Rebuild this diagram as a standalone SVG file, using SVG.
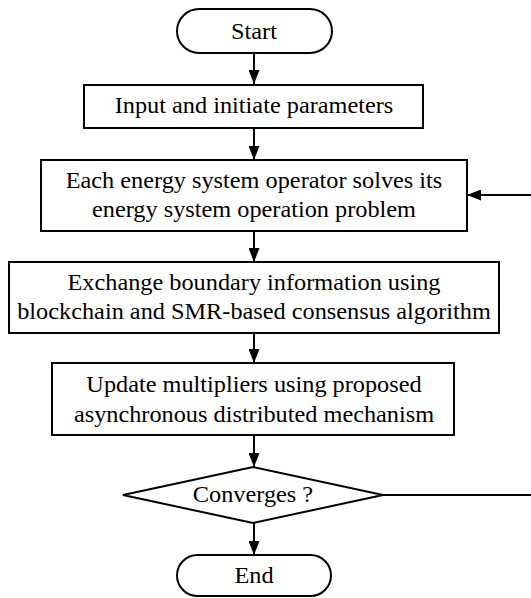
<svg xmlns="http://www.w3.org/2000/svg" width="531" height="598" viewBox="0 0 531 598">
  <defs>
    <marker id="arrow" markerWidth="14" markerHeight="11" refX="14" refY="5.5" orient="auto" markerUnits="userSpaceOnUse">
      <path d="M0,0 L14,5.5 L0,11 Z" fill="#000"/>
    </marker>
    <style>
      .shape { fill: #fff; stroke: #000; stroke-width: 2; }
      .label { font-family: "Liberation Serif", "Times New Roman", serif; font-size: 22.5px; fill: #000; text-anchor: middle; }
      .link { fill: none; stroke: #000; stroke-width: 2; }
    </style>
  </defs>
  <rect width="531" height="598" fill="#fff"/>

  <g id="connectors">
    <line class="link" x1="254" y1="53" x2="254" y2="84" marker-end="url(#arrow)"/>
    <line class="link" x1="254" y1="128" x2="254" y2="160" marker-end="url(#arrow)"/>
    <line class="link" x1="254" y1="231" x2="254" y2="262" marker-end="url(#arrow)"/>
    <line class="link" x1="254" y1="333" x2="254" y2="363" marker-end="url(#arrow)"/>
    <line class="link" x1="254" y1="435" x2="254" y2="467" marker-end="url(#arrow)"/>
    <line class="link" x1="254" y1="523" x2="254" y2="555" marker-end="url(#arrow)"/>
    <!-- loop back when not converged -->
    <line class="link" x1="383" y1="495" x2="531" y2="495"/>
    <line class="link" x1="531" y1="195" x2="467" y2="195" marker-end="url(#arrow)"/>
  </g>

  <g id="start">
    <rect class="shape" x="177" y="9" width="155" height="44" rx="22" ry="22"/>
    <text class="label" transform="translate(254 39) scale(1.08 1)">Start</text>
  </g>

  <g id="input">
    <rect class="shape" x="84" y="85" width="339" height="43"/>
    <text class="label" transform="translate(254 113) scale(1.08 1)">Input and initiate parameters</text>
  </g>

  <g id="solve">
    <rect class="shape" x="41" y="160" width="426" height="71"/>
    <text class="label" transform="translate(254 188) scale(1.08 1)">Each energy system operator solves its</text>
    <text class="label" transform="translate(254 217) scale(1.08 1)">energy system operation problem</text>
  </g>

  <g id="exchange">
    <rect class="shape" x="9" y="262" width="490" height="71"/>
    <text class="label" transform="translate(254 289.5) scale(1.08 1)">Exchange boundary information using</text>
    <text class="label" transform="translate(254 318.5) scale(1.08 1)">blockchain and SMR-based consensus algorithm</text>
  </g>

  <g id="update">
    <rect class="shape" x="52" y="363" width="402" height="72"/>
    <text class="label" transform="translate(254 392) scale(1.08 1)">Update multipliers using proposed</text>
    <text class="label" transform="translate(254 421.5) scale(1.08 1)">asynchronous distributed mechanism</text>
  </g>

  <g id="converges">
    <polygon class="shape" points="253,467 383,495 253,523 123,495"/>
    <text class="label" transform="translate(253 502) scale(1.08 1)">Converges ?</text>
  </g>

  <g id="end">
    <rect class="shape" x="177" y="555" width="154" height="41" rx="20.5" ry="20.5"/>
    <text class="label" transform="translate(254 583) scale(1.08 1)">End</text>
  </g>
</svg>
